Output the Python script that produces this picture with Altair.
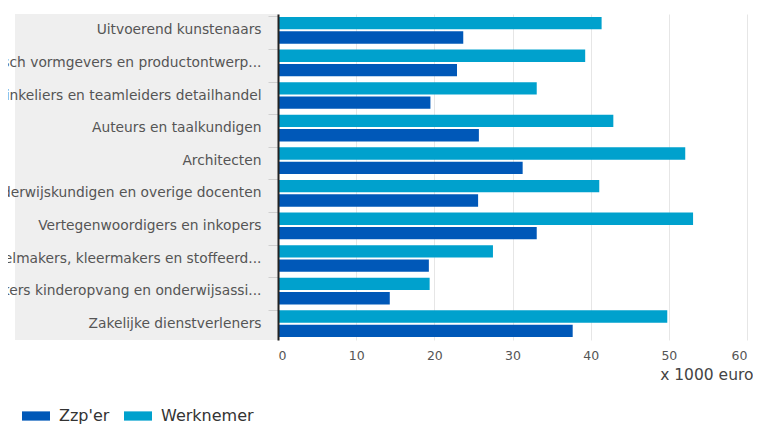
import altair as alt
import pandas as pd

categories = [
    "Uitvoerend kunstenaars",
    "Grafisch vormgevers en productontwerp...",
    "Winkeliers en teamleiders detailhandel",
    "Auteurs en taalkundigen",
    "Architecten",
    "Onderwijskundigen en overige docenten",
    "Vertegenwoordigers en inkopers",
    "Meubelmakers, kleermakers en stoffeerd...",
    "Medewerkers kinderopvang en onderwijsassi...",
    "Zakelijke dienstverleners",
]
werknemer = [41.4, 39.3, 33.1, 42.9, 52.1, 41.1, 53.1, 27.5, 19.4, 49.8]
zzper = [23.7, 22.9, 19.5, 25.7, 31.3, 25.6, 33.1, 19.3, 14.3, 37.7]
series = ["Zzp'er", "Werknemer"]
x_ticks = [0, 10, 20, 30, 40, 50, 60]

rows = []
for c, w, z in zip(categories, werknemer, zzper):
    rows.append({"beroep": c, "type": "Werknemer", "waarde": w})
    rows.append({"beroep": c, "type": "Zzp'er", "waarde": z})
df = pd.DataFrame(rows)

W, H = 469, 326
FONT = "DejaVu Sans"

bg = alt.Chart(pd.DataFrame({"a": [0]})).mark_rect(color="#efefef").encode(
    x=alt.value(-263), x2=alt.value(0), y=alt.value(0), y2=alt.value(H)
)

bars = alt.Chart(df).mark_bar().encode(
    y=alt.Y(
        "beroep:N",
        sort=categories,
        title=None,
        scale=alt.Scale(paddingInner=0.18, paddingOuter=0.09),
        axis=alt.Axis(
            zindex=1,
            bandPosition=0,
            tickSize=10,
            tickColor="#d0d0d0",
            labelPadding=7,
            labelLimit=600,
            labelFontSize=13.8,
            labelColor="#555555",
            labelFont=FONT,
            domainColor="#222222",
            domainWidth=2,
            grid=False,
        ),
    ),
    yOffset=alt.YOffset(
        "type:N",
        sort=["Werknemer", "Zzp'er"],
        scale=alt.Scale(paddingInner=0.14, paddingOuter=0),
    ),
    x=alt.X(
        "waarde:Q",
        title="x 1000 euro",
        scale=alt.Scale(domain=[0, 60], nice=False),
        axis=alt.Axis(
            values=x_ticks,
            domain=False,
            ticks=False,
            grid=True,
            gridColor="#e6e6e6",
            labelPadding=9,
            labelFontSize=12.5,
            labelColor="#555555",
            labelFont=FONT,
            titleFont=FONT,
            titleFontSize=15.5,
            titleFontWeight="normal",
            titleColor="#444444",
            titleAnchor="end",
            titleAlign="right",
            titleBaseline="middle",
            titleX=W + 6,
            titleY=34,
        ),
    ),
    color=alt.Color(
        "type:N",
        scale=alt.Scale(domain=series, range=["#0058b8", "#00a1cd"]),
        legend=alt.Legend(
            title=None,
            orient="none",
            direction="horizontal",
            legendX=-256,
            legendY=388,
            symbolType="M-1,-0.33L1,-0.33L1,0.33L-1,0.33Z",
            symbolSize=784,
            symbolStrokeWidth=0,
            symbolOpacity=1,
            labelFont=FONT,
            labelFontSize=16,
            labelColor="#333333",
            labelOffset=9,
            columnPadding=14,
        ),
    ),
)

chart = alt.layer(bg, bars).properties(
    width=W,
    height=H,
    autosize=alt.AutoSizeParams(type="none"),
    padding={"left": 270, "top": 6, "right": 6, "bottom": 84},
).configure_view(stroke=None)

chart.save("out.html", embed_options={"renderer": "svg", "actions": False})
